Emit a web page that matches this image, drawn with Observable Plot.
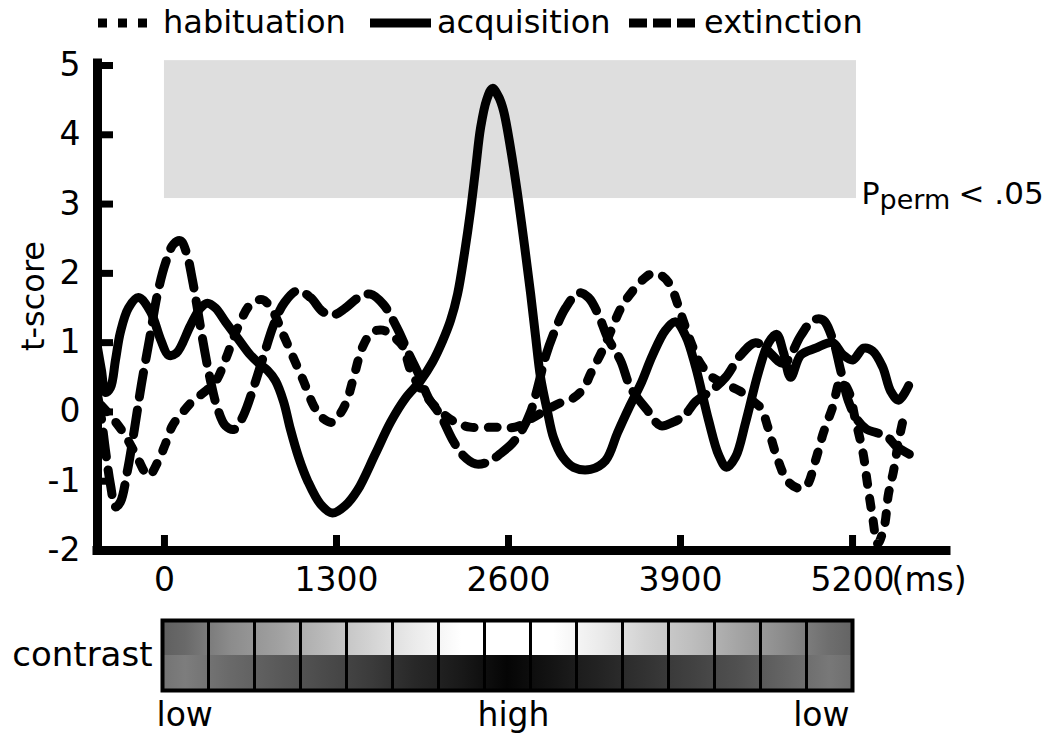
<!DOCTYPE html>
<html>
<head>
<meta charset="utf-8">
<script src="https://cdn.jsdelivr.net/npm/d3@7"></script>
<script src="https://cdn.jsdelivr.net/npm/@observablehq/plot@0.6"></script>
<style>
  body { margin: 0; background: #fff; font-family: "DejaVu Sans", sans-serif; }
  #legend, #main, #contrast { width: 1050px; }
  svg { display: block; }
</style>
</head>
<body>
<div id="legend"></div>
<div id="main"></div>
<div id="contrast"></div>
<script>
// ---------- data ----------
const seriesNames = ["habituation", "acquisition", "extinction"];

// time (ms) and t-score
const habT = [-480,-410,-310,-220,-120,-50,10,60,140,210,310,390,460,550,650,740,820,890,970,1050,1130,1190,1270,1330,1380,1430,1500,1570,1650,1720,1800,1860,1960,2090,2200,2310,2500,2650,2770,2880,2990,3090,3170,3220,3300,3370,3450,3540,3640,3690,3770,3830,3900,3980,4050,4140,4240,4350,4450,4510,4560,4630,4710,4790,4850,4920,4980,5050,5110,5170,5220,5280,5310,5350,5390,5440,5470,5510,5550,5590];
const habV = [0.1,-0.05,-0.3,-0.6,-0.92,-0.72,-0.45,-0.2,0.0,0.15,0.3,0.45,0.75,1.2,1.55,1.62,1.45,1.15,0.8,0.45,0.08,-0.08,-0.15,-0.02,0.17,0.5,0.95,1.15,1.18,1.1,0.95,0.6,0.27,0.0,-0.15,-0.22,-0.22,-0.22,-0.1,0.02,0.13,0.2,0.35,0.55,0.85,1.15,1.5,1.75,1.95,2.0,1.95,1.8,1.43,1.0,0.7,0.5,0.4,0.3,0.15,0.05,-0.22,-0.66,-1.0,-1.1,-1.07,-0.7,-0.3,0.07,0.45,0.3,-0.1,-0.6,-1.0,-1.5,-1.9,-1.65,-1.2,-0.85,-0.4,-0.05];

const acqT = [-506,-476,-446,-408,-370,-333,-272,-197,-106,-30,30,91,197,272,325,386,461,559,650,726,779,839,900,952,1013,1081,1179,1270,1368,1459,1595,1708,1822,1935,2026,2101,2162,2215,2268,2313,2351,2389,2434,2479,2525,2562,2616,2668,2721,2767,2804,2842,2895,2940,3009,3092,3220,3334,3424,3508,3599,3689,3787,3863,3938,4014,4112,4188,4248,4316,4392,4490,4566,4626,4679,4732,4808,4921,5049,5125,5201,5284,5352,5427,5488,5548,5624];
const acqV = [0.93,0.6,0.28,0.35,0.75,1.15,1.5,1.65,1.45,1.05,0.82,0.85,1.25,1.5,1.57,1.5,1.3,1.05,0.82,0.68,0.6,0.45,0.15,-0.25,-0.65,-0.99,-1.33,-1.46,-1.35,-1.13,-0.6,-0.15,0.2,0.45,0.72,1.02,1.32,1.7,2.3,2.9,3.5,4.1,4.5,4.67,4.55,4.35,3.8,3.15,2.4,1.71,1.1,0.5,0.0,-0.37,-0.65,-0.8,-0.83,-0.7,-0.3,0.05,0.4,0.82,1.18,1.3,1.1,0.65,-0.12,-0.62,-0.8,-0.65,-0.15,0.58,1.0,1.12,0.85,0.5,0.82,0.92,1.0,0.83,0.75,0.92,0.88,0.65,0.3,0.17,0.38];

const extT = [-506,-476,-446,-408,-370,-333,-280,-227,-174,-113,-53,8,68,121,166,212,257,302,348,401,461,529,597,673,748,824,907,1005,1104,1194,1277,1368,1466,1557,1655,1761,1844,1920,1996,2086,2177,2253,2351,2449,2540,2630,2706,2767,2820,2880,2956,3031,3129,3205,3280,3349,3447,3523,3651,3750,3840,3930,4014,4127,4241,4354,4467,4550,4680,4808,4898,4974,5050,5110,5170,5238,5306,5382,5458,5533,5639];
const extV = [0.25,-0.1,-0.55,-1.05,-1.37,-1.3,-0.85,-0.25,0.4,1.05,1.7,2.15,2.42,2.47,2.3,1.9,1.4,0.9,0.45,0.05,-0.2,-0.25,-0.05,0.35,0.8,1.25,1.58,1.75,1.65,1.45,1.4,1.5,1.65,1.7,1.55,1.2,0.85,0.55,0.2,-0.05,-0.4,-0.62,-0.75,-0.72,-0.6,-0.45,-0.25,0.0,0.35,0.8,1.2,1.5,1.72,1.65,1.4,1.07,0.74,0.35,0.02,-0.2,-0.15,-0.05,0.15,0.3,0.5,0.82,1.0,0.9,0.7,1.1,1.32,1.33,1.05,0.6,0.15,-0.12,-0.25,-0.3,-0.35,-0.5,-0.62];

const xTicks = [0, 1300, 2600, 3900, 5200];
const yTicks = [-2, -1, 0, 1, 2, 3, 4, 5];
const sigBand = {t1: 0, t2: 5230, v1: 3.08, v2: 5.07};
const sigLabel = {main: "P", sub: "perm", rest: "< .05"};

const contrastTop = [105,140,160,185,210,235,255,255,255,235,210,190,165,140,110];
const contrastBottom = [125,105,90,75,60,40,25,5,20,35,50,65,80,100,120];
const contrastLabels = ["low", "high", "low"];

// ---------- build ----------
const zip = (T, V) => T.map((t, i) => ({t, v: V[i]}));
const hab = zip(habT, habV), acq = zip(acqT, acqV), ext = zip(extT, extV);
const dashes = {habituation: "9,14", acquisition: null, extinction: "25,13"};
const LW = 9;

// legend (plain svg above the chart)
{
  const svg = d3.select("#legend").append("svg").attr("width", 1050).attr("height", 45);
  const items = [
    {name: seriesNames[0], x1: 98, x2: 148, dash: "9,11", tx: 163},
    {name: seriesNames[1], x1: 370, x2: 431, dash: null, tx: 437},
    {name: seriesNames[2], x1: 629, x2: 695, dash: "18,6", tx: 704}
  ];
  for (const it of items) {
    svg.append("line").attr("x1", it.x1).attr("x2", it.x2).attr("y1", 23).attr("y2", 23)
      .attr("stroke", "black").attr("stroke-width", 9).attr("stroke-dasharray", it.dash);
    svg.append("text").attr("x", it.tx).attr("y", 33).attr("font-size", 32)
      .attr("font-family", "DejaVu Sans").text(it.name);
  }
}

const xMin = -506, xMax = 5910;
const main = Plot.plot({
  width: 1050, height: 560,
  marginLeft: 97, marginRight: 104, marginTop: 20, marginBottom: 55,
  x: {domain: [xMin, xMax]},
  y: {domain: [-2, 5]},
  style: {fontFamily: "DejaVu Sans", background: "white", color: "black"},
  marks: [
    Plot.rect([sigBand], {x1: "t1", x2: "t2", y1: "v1", y2: "v2", fill: "#dedede"}),
    Plot.line(hab, {x: "t", y: "v", stroke: "black", strokeWidth: LW, strokeDasharray: dashes.habituation, curve: "catmull-rom"}),
    Plot.line(ext, {x: "t", y: "v", stroke: "black", strokeWidth: LW, strokeDasharray: dashes.extinction, curve: "catmull-rom"}),
    Plot.line(acq, {x: "t", y: "v", stroke: "black", strokeWidth: LW, curve: "catmull-rom"}),
    // axis lines
    Plot.ruleX([xMin], {y1: -2, y2: 5.03, stroke: "black", strokeWidth: 9, strokeLinecap: "square"}),
    Plot.ruleY([-2], {x1: xMin, x2: xMax, stroke: "black", strokeWidth: 9, strokeLinecap: "square"}),
    // inward ticks
    Plot.ruleX(xTicks, {y1: -2, y2: -2, insetTop: -15, stroke: "black", strokeWidth: 7}),
    Plot.ruleY(yTicks, {x1: xMin, x2: xMin, insetRight: -16, stroke: "black", strokeWidth: 7}),
    Plot.axisX({ticks: xTicks, tickSize: 0, tickPadding: 17, fontSize: 33, tickFormat: d => String(d), label: null}),
    Plot.axisY({ticks: yTicks, tickSize: 0, tickPadding: 17, fontSize: 33, tickFormat: d => String(d), label: null}),
    Plot.text(["(ms)"], {x: 5200, frameAnchor: "bottom", textAnchor: "start", lineAnchor: "top", dx: 39, dy: 17, fontSize: 33}),
    Plot.text(["t-score"], {frameAnchor: "left", textAnchor: "middle", rotate: -90, dx: -64, dy: -12, fontSize: 32}),
    Plot.text([sigLabel.main], {x: sigBand.t2, y: 3.0, dx: 5, textAnchor: "start", lineAnchor: "bottom", fontSize: 30}),
    Plot.text([sigLabel.sub], {x: sigBand.t2, y: 3.0, dx: 23, dy: 5, textAnchor: "start", lineAnchor: "bottom", fontSize: 27}),
    Plot.text([sigLabel.rest], {x: sigBand.t2, y: 3.0, dx: 102, textAnchor: "start", lineAnchor: "bottom", fontSize: 31})
  ]
});
document.getElementById("main").append(main);

const cells = [];
contrastTop.forEach((g, i) => cells.push({i, row: 1, g}));
contrastBottom.forEach((g, i) => cells.push({i, row: 0, g}));
const contrast = Plot.plot({
  width: 1050, height: 130,
  marginLeft: 162, marginRight: 198, marginTop: 15, marginBottom: 45,
  x: {domain: [0, contrastTop.length], axis: null},
  y: {domain: [0, 2], axis: null},
  color: {type: "identity"},
  style: {fontFamily: "DejaVu Sans", background: "white", color: "black"},
  marks: [
    Plot.rect(cells, {x1: "i", x2: d => d.i + 1, y1: "row", y2: d => d.row + 1, fill: d => `url(#cg-${d.row}-${d.i})`}),
    Plot.ruleX(d3.range(1, contrastTop.length), {stroke: "black", strokeWidth: 3}),
    Plot.frame({stroke: "black", strokeWidth: 4}),
    Plot.text(["contrast"], {frameAnchor: "left", textAnchor: "end", dx: -10, fontSize: 34}),
    Plot.text([contrastLabels[0]], {frameAnchor: "bottom-left", textAnchor: "start", lineAnchor: "top", dx: -6, dy: 12, fontSize: 33}),
    Plot.text([contrastLabels[1]], {frameAnchor: "bottom", textAnchor: "middle", lineAnchor: "top", dx: 6, dy: 12, fontSize: 33}),
    Plot.text([contrastLabels[2]], {frameAnchor: "bottom-right", textAnchor: "end", lineAnchor: "top", dx: -3, dy: 12, fontSize: 33})
  ]
});
// per-cell shading: each cell blends toward its neighbours' tones
{
  const defs = d3.select(contrast).insert("defs", ":first-child");
  const gray = v => d3.rgb(v, v, v).toString();
  for (const d of cells) {
    const arr = d.row ? contrastTop : contrastBottom;
    const n = arr.length;
    const l = d.i > 0 ? (arr[d.i - 1] + arr[d.i]) / 2 : arr[d.i] - 10;
    const r = d.i < n - 1 ? (arr[d.i] + arr[d.i + 1]) / 2 : arr[d.i] - 10;
    const g = defs.append("linearGradient").attr("id", `cg-${d.row}-${d.i}`)
      .attr("x1", 0).attr("x2", 1).attr("y1", 0).attr("y2", 0);
    g.append("stop").attr("offset", 0).attr("stop-color", gray(l));
    g.append("stop").attr("offset", 0.5).attr("stop-color", gray(arr[d.i]));
    g.append("stop").attr("offset", 1).attr("stop-color", gray(r));
  }
}
document.getElementById("contrast").append(contrast);
</script>
</body>
</html>
